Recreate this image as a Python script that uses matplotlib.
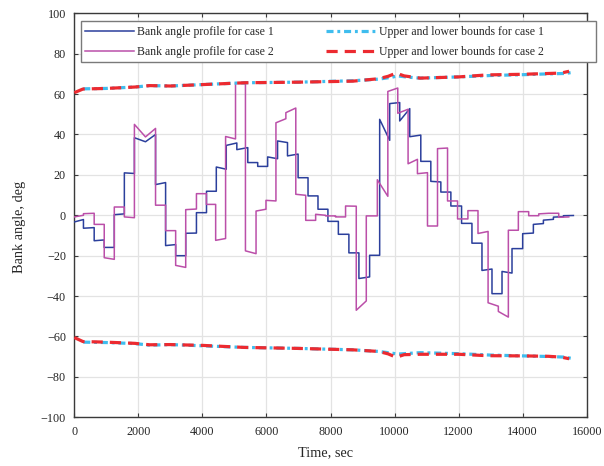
import numpy as np
import matplotlib.pyplot as plt
from matplotlib.patches import Rectangle

plt.rcParams['font.family'] = ['Liberation Serif', 'DejaVu Serif']

# ---------------- data ----------------
# Case 1 bank-angle profile: node times (s) and per-segment start / end values (deg)
t_case1 = [0, 286, 621, 935, 1249, 1563, 1877, 2223, 2537, 2851, 3165, 3479, 3814,
           4128, 4434, 4745, 5075, 5417, 5727, 6037, 6347, 6657, 6988, 7298, 7609,
           7919, 8245, 8574, 8887, 9221, 9535, 9848, 10161, 10474, 10819, 11132,
           11445, 11758, 12092, 12416, 12729, 13042, 13355, 13667, 14000, 14334,
           14647, 14960, 15272, 15584]
start_case1 = [-3.3, -6.4, -12.6, -15.9, 0.3, 21.0, 38.4, 36.4, 15.2, -15.0, -20.0,
               -8.9, 1.3, 11.9, 23.9, 34.6, 32.5, 26.1, 24.2, 28.9, 36.8, 29.4, 18.6,
               9.6, 3.0, -3.0, -9.4, -18.6, -31.3, -19.8, 47.5, 55.3, 46.7, 38.9, 26.7,
               16.8, 11.5, 4.6, -4.0, -13.8, -27.3, -38.8, -27.8, -16.5, -9.1, -4.5,
               -2.4, -0.9, -0.2]
end_case1 = [-2.1, -6.1, -12.2, -15.9, 0.7, 20.7, 36.4, 40.0, 16.2, -14.5, -20.0,
             -8.8, 1.3, 11.9, 22.8, 35.8, 33.5, 26.1, 24.2, 28.0, 36.0, 30.3, 18.6,
             9.6, 3.0, -3.0, -9.4, -18.6, -30.5, -19.8, 37.1, 55.8, 52.8, 39.7, 26.7,
             16.5, 11.5, 4.6, -4.0, -13.8, -26.6, -38.8, -28.6, -16.5, -8.8, -4.1,
             -2.0, -0.7, -0.1]

# Case 2 bank-angle profile
t_case2 = [0, 286, 621, 935, 1249, 1563, 1877, 2223, 2537, 2851, 3165, 3479, 3814,
           4124, 4414, 4724, 5034, 5344, 5675, 5985, 6296, 6606, 6916, 7226, 7536,
           7847, 8157, 8470, 8804, 9117, 9462, 9790, 10100, 10422, 10714, 11028,
           11341, 11654, 11967, 12290, 12605, 12920, 13240, 13553, 13865, 14188,
           14501, 14813, 15126, 15439]
start_case2 = [-0.8, 0.8, -4.5, -21.0, 4.1, -0.8, 45.0, 38.8, 5.0, -7.6, -24.8, 2.8,
               10.7, 5.4, -12.4, 39.0, 65.5, -17.6, 2.1, 7.4, 45.8, 50.8, 10.4, -2.5,
               0.5, -0.3, -0.8, 4.6, -47.0, -0.3, 17.6, 61.3, 50.5, 25.5, 20.6, -5.3,
               33.0, 7.1, -1.8, 2.3, -9.0, -43.3, -47.6, -7.4, 1.8, -0.2, 0.7, 1.0,
               -1.0]
end_case2 = [0.0, 1.0, -4.5, -21.8, 4.1, -1.2, 38.8, 43.0, 5.0, -7.6, -25.8, 3.1,
             10.7, 5.4, -11.5, 37.8, 65.1, -19.0, 3.0, 7.1, 47.8, 53.1, 9.9, -2.5,
             0.0, -0.3, -0.8, 4.5, -42.4, -0.3, 9.4, 63.0, 52.5, 27.7, 21.1, -5.3,
             33.3, 7.1, -1.8, 2.3, -8.0, -45.0, -50.4, -7.4, 1.8, -0.2, 1.0, 1.0,
             -0.8]

# Bounds for case 1 (upper / lower)
tb_case1 = [280, 1000, 1900, 2350, 3000, 4000, 5300, 7000, 8700, 9500, 9900, 10100,
            10400, 10800, 12000, 13000, 14000, 14800, 15300, 15590]
ub_case1 = [62.6, 62.8, 63.5, 64.2, 64.0, 64.7, 65.6, 65.9, 66.6, 67.4, 68.3, 69.0,
            68.4, 67.9, 68.5, 69.2, 69.6, 70.0, 70.2, 70.8]
lb_case1 = [-62.8, -63.0, -63.5, -64.3, -64.0, -64.6, -65.4, -65.9, -66.6, -67.4,
            -68.2, -68.7, -68.4, -68.0, -68.5, -69.2, -69.6, -69.9, -70.2, -71.0]

# Bounds for case 2 (upper / lower)
tb_case2 = [0, 270, 1000, 1900, 2350, 3000, 4000, 5300, 7000, 8700, 9500, 9800,
            10050, 10300, 10800, 12000, 12900, 14000, 14800, 15200, 15450]
ub_case2 = [60.7, 62.5, 62.8, 63.5, 64.2, 64.0, 64.7, 65.6, 65.9, 66.4, 67.6, 68.8,
            70.4, 69.0, 67.9, 68.5, 69.5, 69.8, 70.2, 70.4, 71.3]
lb_case2 = [-60.5, -62.5, -62.8, -63.4, -64.1, -64.0, -64.4, -65.4, -65.9, -66.6,
            -67.4, -68.6, -70.3, -69.0, -68.8, -68.8, -69.5, -69.6, -69.8, -70.2,
            -71.0]

x_ticks = [0, 2000, 4000, 6000, 8000, 10000, 12000, 14000, 16000]
y_ticks = [-100, -80, -60, -40, -20, 0, 20, 40, 60, 80, 100]

labels = ['Bank angle profile for case 1', 'Bank angle profile for case 2',
          'Upper and lower bounds for case 1', 'Upper and lower bounds for case 2']


def profile(t, s, e):
    xs, ys = [], []
    for k in range(len(s)):
        xs += [t[k], t[k + 1]]
        ys += [s[k], e[k]]
    return xs, ys


# ---------------- figure ----------------
fig = plt.figure(figsize=(6.04, 4.66), dpi=100)
ax = fig.add_axes([0.123, 0.1045, 0.8484, 0.867])

c_blue = '#2b3f9c'
c_mag = '#bb4fa9'
c_cyan = '#3fbdee'
c_red = '#ec2a30'

x1, y1 = profile(t_case1, start_case1, end_case1)
x2, y2 = profile(t_case2, start_case2, end_case2)
h1, = ax.plot(x1, y1, color=c_blue, lw=1.1, zorder=3)
h2, = ax.plot(x2, y2, color=c_mag, lw=1.1, zorder=3.1)

h3, = ax.plot(tb_case1, ub_case1, color=c_cyan, lw=2.3, dashes=(2.2, 1.2, 0.9, 1.2),
              zorder=4)
ax.plot(tb_case1, lb_case1, color=c_cyan, lw=2.3, dashes=(2.2, 1.2, 0.9, 1.2), zorder=4)
h4, = ax.plot(tb_case2, ub_case2, color=c_red, lw=2.3, dashes=(3.5, 2.2), zorder=4.1)
ax.plot(tb_case2, lb_case2, color=c_red, lw=2.3, dashes=(3.5, 2.2), zorder=4.1)

ax.set_xlim(0, 16000)
ax.set_ylim(-100, 100)
ax.set_xticks(x_ticks)
ax.set_yticks(y_ticks)
ax.grid(True, color='#e3e3e3', lw=0.9)
ax.set_axisbelow(True)
for sp in ax.spines.values():
    sp.set_color('#3a3a3a')
    sp.set_linewidth(1.0)
ax.tick_params(direction='in', length=3.2, width=0.8, top=True, right=True,
               labelsize=8.7, pad=6.0, colors='#3a3a3a', labelcolor='#262626')

ax.set_xlabel('Time, sec', fontsize=10.3, color='#262626')
ax.set_ylabel('Bank angle, deg', fontsize=10.3, color='#262626')
ax.xaxis.set_label_coords(0.49, -0.071)
ax.yaxis.set_label_coords(-0.094, 0.47)

# legend frame (wider than the legend content)
frame = Rectangle((0.0123, 0.880), 1.0057, 0.101, transform=ax.transAxes,
                  facecolor='white', edgecolor='#7a7a7a', lw=1.0, zorder=6,
                  clip_on=False)
ax.add_patch(frame)
leg = ax.legend([h1, h2, h3, h4], labels, ncol=2, loc='upper left',
                bbox_to_anchor=(0.0203, 0.969), frameon=False, borderpad=0,
                borderaxespad=0, fontsize=8.5, handlelength=4.15,
                handletextpad=0.28, columnspacing=4.45, labelspacing=0.68)
leg.set_zorder(7)
for t in leg.get_texts():
    t.set_color('#262626')

fig.savefig('out.png', dpi=100)
